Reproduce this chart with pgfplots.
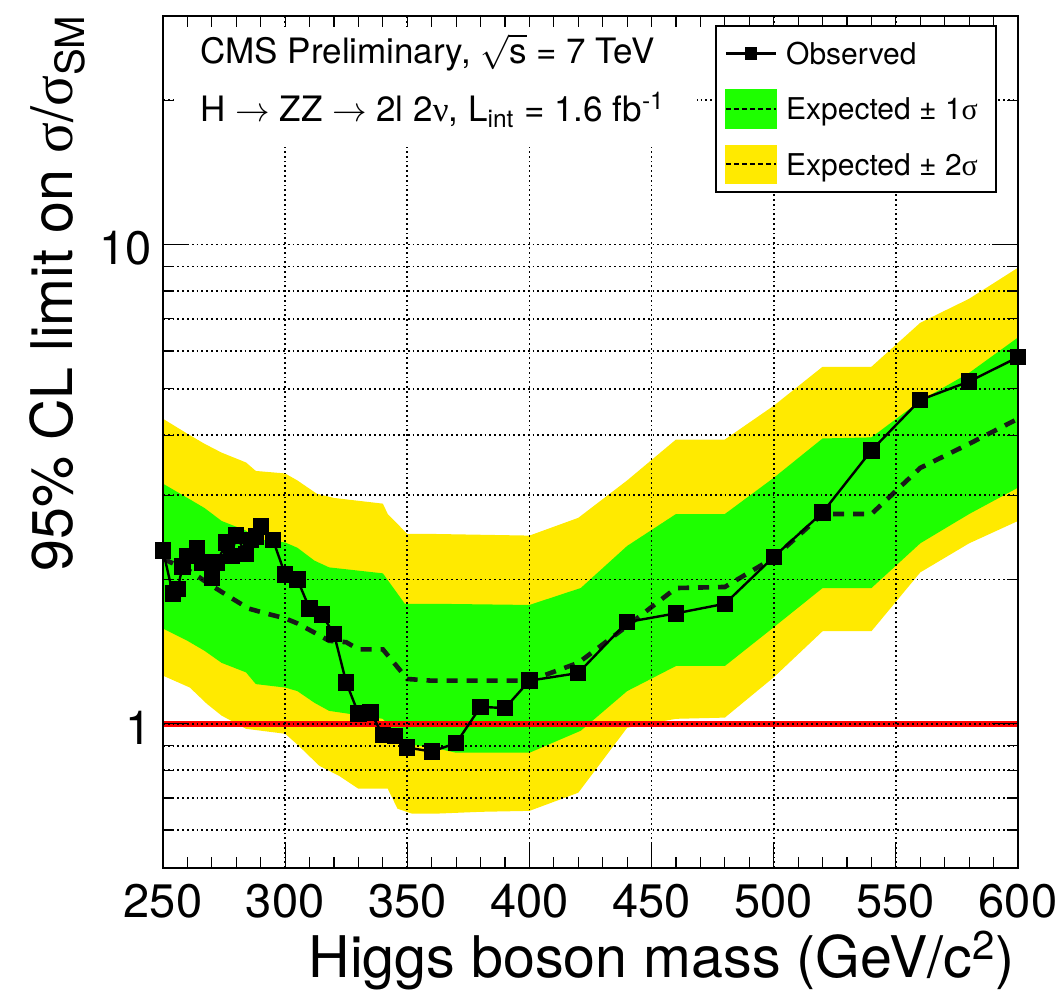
\documentclass[border=0pt]{standalone}
\usepackage{fontspec}
\setmainfont{TeX Gyre Heros}
\newfontfamily\grk{Liberation Serif}
\usepackage{pgfplots}
\pgfplotsset{compat=1.18}
\definecolor{bandgreen}{RGB}{30,255,0}
\definecolor{bandyellow}{RGB}{255,234,0}
\definecolor{expgray}{RGB}{25,25,25}

\begin{document}
\begin{tikzpicture}
\begin{axis}[
  scale only axis,
  width=427.5pt, height=426pt,
  xmin=250, xmax=600,
  ymode=log, ymin=0.5, ymax=30,
  axis on top,
  clip=false,
  axis line style={line width=1.1pt},
  xtick={250,300,...,600},
  minor x tick num=4,
  ytick={1,10}, yticklabels={1,10},
  minor ytick={0.6,0.7,0.8,0.9,2,3,4,5,6,7,8,9,20},
  tick style={black, line width=0.6pt},
  major tick length=13pt, minor tick length=5.3pt,
  xmajorgrids, ymajorgrids, yminorgrids,
  major grid style={black, line width=0.9pt, dash pattern=on 0.9pt off 1.5pt},
  minor grid style={black, line width=0.9pt, dash pattern=on 0.9pt off 1.5pt},
  /pgf/number format/assume math mode=true,
  /pgf/number format/1000 sep={},
  tick label style={font=\fontsize{23.5}{23.5}\selectfont},
  xticklabel style={anchor=base, inner sep=0pt, yshift=-24.5pt},
  yticklabel style={anchor=east, inner sep=0pt, xshift=-5.5pt, yshift=-2pt},
  label style={font=\fontsize{28.7}{28.7}\selectfont},
  xlabel={Higgs boson mass (GeV/c\textsuperscript{2})},
  xlabel style={at={(axis description cs:0.9965,-0.128)}, anchor=base east, inner sep=0pt},
  ylabel={95\% CL limit on {\grk σ}/{\grk σ}\textsubscript{SM}},
  ylabel style={at={(axis description cs:-0.1064,1.002)}, anchor=base east, inner sep=0pt},
  legend cell align=left,
  legend style={at={(axis description cs:0.6456,0.9894)}, anchor=north west,
    draw=black, line width=0.8pt, fill=white, inner xsep=4.5pt, inner ysep=0pt,
    font=\fontsize{15}{15}\selectfont,
    nodes={inner xsep=4.5pt, inner ysep=0pt, minimum height=27.7pt, text depth=0pt}},
]
% 2 sigma band
\addplot[fill=bandyellow, draw=none, forget plot] coordinates {
(250,4.33) (260,4.03) (267,3.84) (274,3.68) (284,3.51) (288,3.37) (300,3.33) (305,3.22) (313,3.02) (320,2.96) (340,2.88) (342,2.74) (350,2.49) (360,2.49) (380,2.48) (400,2.47) (420,2.69) (440,3.22) (460,3.92) (480,3.92) (500,4.61) (520,5.56) (540,5.56) (560,6.87) (580,7.71) (600,8.95)
(600,2.65) (580,2.38) (560,2.07) (540,1.56) (520,1.56) (500,1.25) (480,1.03) (460,1.024) (440,0.981) (420,0.718) (400,0.658) (380,0.655) (361,0.649) (352,0.649) (346,0.665) (342,0.732) (330,0.732) (322,0.779) (314,0.817) (305,0.905) (300,0.953) (284,0.976) (274,1.04) (268,1.10) (261,1.19) (250,1.26)
} -- cycle;
% 1 sigma band
\addplot[fill=bandgreen, draw=none, forget plot] coordinates {
(250,3.17) (260,2.96) (267,2.82) (274,2.65) (284,2.53) (288,2.43) (300,2.39) (305,2.33) (312,2.19) (318,2.12) (340,2.06) (349,1.78) (361,1.78) (400,1.77) (421,1.92) (440,2.35) (460,2.74) (480,2.74) (500,3.26) (520,3.94) (540,3.96) (560,4.72) (580,5.40) (600,6.40)
(600,3.11) (580,2.74) (560,2.38) (540,1.92) (520,1.92) (500,1.59) (480,1.32) (460,1.32) (440,1.17) (421,0.967) (400,0.87) (370,0.87) (361,0.891) (349,0.908) (340,1.024) (318,1.064) (312,1.106) (305,1.17) (300,1.19) (288,1.21) (284,1.28) (274,1.34) (267,1.42) (260,1.49) (250,1.58)
} -- cycle;
% SM line
\addplot[red, line width=2.8pt, forget plot] coordinates {(250,1) (600,1)};
% expected
\addplot[expgray, line width=2.3pt, dash pattern=on 5.5pt off 4.5pt, forget plot] coordinates {
(250,2.21) (262,2.07) (268,1.97) (278,1.83) (285,1.74) (292,1.70) (300,1.66) (305,1.62) (313,1.54) (318,1.49) (325,1.48) (330,1.43) (340,1.43) (350,1.24) (360,1.23) (380,1.23) (400,1.23) (420,1.34) (440,1.60) (460,1.92) (480,1.93) (500,2.22) (520,2.74) (540,2.74) (560,3.42) (580,3.84) (600,4.33)
};
% observed
\addplot[black, line width=1.2pt, mark=square*, mark size=3.5pt, mark options={solid}, forget plot] coordinates {
(250,2.30) (254,1.87) (256,1.91) (258,2.13) (260,2.24) (264,2.33) (266,2.17) (270,2.02) (272,2.17) (276,2.39) (278,2.24) (280,2.47) (284,2.26) (286,2.42) (288,2.46) (290,2.58) (295,2.42) (300,2.05) (305,2.00) (310,1.74) (315,1.69) (320,1.54) (325,1.22) (330,1.05) (335,1.056) (340,0.947) (345,0.944) (350,0.892) (360,0.875) (370,0.911) (380,1.085) (390,1.078) (400,1.23) (420,1.276) (440,1.63) (460,1.70) (480,1.78) (500,2.23) (520,2.76) (540,3.72) (560,4.74) (580,5.18) (600,5.82)
};
\addlegendimage{legend image code/.code={\draw[black, line width=1.2pt, mark=square*, mark size=2.6pt, mark repeat=2, mark phase=2] plot coordinates {(0pt,0pt) (12.5pt,0pt) (25pt,0pt)};}}
\addlegendentry{Observed}
\addlegendimage{legend image code/.code={\fill[bandgreen] (0pt,-9.5pt) rectangle (25pt,9.5pt); \draw[black, line width=0.9pt, dash pattern=on 2.5pt off 1.5pt] (0pt,0pt) -- (25pt,0pt);}}
\addlegendentry{Expected ± 1{\grk σ}}
\addlegendimage{legend image code/.code={\fill[bandyellow] (0pt,-9.5pt) rectangle (25pt,9.5pt); \draw[black, line width=0.9pt, dash pattern=on 2.5pt off 1.5pt] (0pt,0pt) -- (25pt,0pt);}}
\addlegendentry{Expected ± 2{\grk σ}}
\coordinate (O) at (rel axis cs:0,0);
\coordinate (tbA) at (axis description cs:0.0129,0.8462);
\coordinate (tbB) at (axis description cs:0.6246,0.9871);
\coordinate (t1) at (axis description cs:0.0433,0.9448);
\coordinate (t2) at (axis description cs:0.0433,0.8756);
\end{axis}
\fill[white] (tbA) rectangle (tbB);
\node[anchor=base west, inner sep=0pt, font=\fontsize{17.5}{17.5}\selectfont] at (t1) {CMS Preliminary, $\sqrt{\hbox{s}}$ = 7 TeV};
\node[anchor=base west, inner sep=0pt, font=\fontsize{17.5}{17.5}\selectfont] at (t2) {H $\rightarrow$ ZZ $\rightarrow$ 2l 2{\grk ν}, L\textsubscript{int} = 1.6 fb\textsuperscript{-1}};
\pgfresetboundingbox
\path[use as bounding box] ([shift={(-81.5pt,-61pt)}]O) rectangle ([shift={(450.5pt,434pt)}]O);
\end{tikzpicture}
\end{document}
